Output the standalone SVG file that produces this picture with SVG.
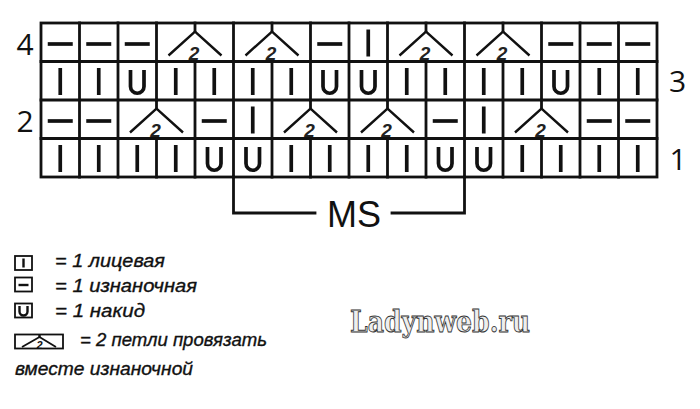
<svg xmlns="http://www.w3.org/2000/svg" xmlns:xlink="http://www.w3.org/1999/xlink" width="700" height="409" viewBox="0 0 700 409">
<style>
.g{fill:none;stroke:#111;stroke-width:2.8;stroke-linecap:square}
.s{fill:none;stroke:#111;stroke-width:3.7}
.dg{fill:none;stroke:#111;stroke-width:2.4}
.two{font-family:"Liberation Sans",Arial,sans-serif;font-size:19px;font-weight:bold;font-style:italic;fill:#222;text-anchor:middle}
.num{font-family:"Open Sans","DejaVu Sans",sans-serif;font-size:30px;fill:#111;text-anchor:middle}
.ms{font-family:"Liberation Sans",Arial,sans-serif;font-size:36px;fill:#111;text-anchor:middle}
.leg{font-family:"Liberation Sans",Arial,sans-serif;font-size:18.5px;font-style:italic;fill:#111;stroke:#111;stroke-width:0.35}
.lb{fill:#fff;stroke:#111;stroke-width:1.8}
.ls{fill:none;stroke:#111;stroke-width:2.4}
.wm{font-family:"DejaVu Serif",serif;font-size:30px;font-weight:bold;fill:#eeeeee;stroke:#333;stroke-width:0.9}
</style>
<defs>
<g id="k"><line class="s" x1="19.25" y1="6.5" x2="19.25" y2="33.5"/></g>
<g id="p"><line class="s" x1="6.75" y1="21" x2="31.75" y2="21"/></g>
<g id="u"><path class="s" d="M12.5,8.5 V25 A6.75,6.75 0 0 0 26,25 V8.5"/></g>
<g id="d"><line class="g" x1="0" y1="0" x2="0" y2="8.5"/><polyline class="dg" points="-26.5,32.5 0,8.5 26.5,32.5"/><text class="two" x="-1" y="36.5">2</text></g>
</defs>
<rect width="700" height="409" fill="#fff"/>
<g id="grid">
<rect class="g" x="41" y="23" width="616" height="154"/>
<path class="g" d="M41,61.5 H657 M41,100 H657 M41,138.5 H657"/>
<path class="g" d="M79.5,23 V177 M118,23 V177 M156.5,23 V100 M156.5,138.5 V177 M195,61.5 V177 M233.5,23 V177 M272,61.5 V177 M310.5,23 V100 M310.5,138.5 V177 M349,23 V177 M387.5,23 V100 M387.5,138.5 V177 M426,61.5 V177 M464.5,23 V177 M503,61.5 V177 M541.5,23 V100 M541.5,138.5 V177 M580,23 V177 M618.5,23 V177"/>
</g>
<g id="row4">
<use xlink:href="#p" x="41" y="23"/><use xlink:href="#p" x="79.5" y="23"/><use xlink:href="#p" x="118" y="23"/>
<use xlink:href="#d" x="195" y="23"/><use xlink:href="#d" x="272" y="23"/>
<use xlink:href="#p" x="310.5" y="23"/><use xlink:href="#k" x="349" y="23"/>
<use xlink:href="#d" x="426" y="23"/><use xlink:href="#d" x="503" y="23"/>
<use xlink:href="#p" x="541.5" y="23"/><use xlink:href="#p" x="580" y="23"/><use xlink:href="#p" x="618.5" y="23"/>
</g>
<g id="row3">
<use xlink:href="#k" x="41" y="61.5"/><use xlink:href="#k" x="79.5" y="61.5"/><use xlink:href="#u" x="118" y="61.5"/><use xlink:href="#k" x="156.5" y="61.5"/>
<use xlink:href="#k" x="195" y="61.5"/><use xlink:href="#k" x="233.5" y="61.5"/><use xlink:href="#k" x="272" y="61.5"/><use xlink:href="#u" x="310.5" y="61.5"/>
<use xlink:href="#u" x="349" y="61.5"/><use xlink:href="#k" x="387.5" y="61.5"/><use xlink:href="#k" x="426" y="61.5"/><use xlink:href="#k" x="464.5" y="61.5"/>
<use xlink:href="#k" x="503" y="61.5"/><use xlink:href="#u" x="541.5" y="61.5"/><use xlink:href="#k" x="580" y="61.5"/><use xlink:href="#k" x="618.5" y="61.5"/>
</g>
<g id="row2">
<use xlink:href="#p" x="41" y="100"/><use xlink:href="#p" x="79.5" y="100"/>
<use xlink:href="#d" x="156.5" y="100"/>
<use xlink:href="#p" x="195" y="100"/><use xlink:href="#k" x="233.5" y="100"/>
<use xlink:href="#d" x="310.5" y="100"/><use xlink:href="#d" x="387.5" y="100"/>
<use xlink:href="#p" x="426" y="100"/><use xlink:href="#k" x="464.5" y="100"/>
<use xlink:href="#d" x="541.5" y="100"/>
<use xlink:href="#p" x="580" y="100"/><use xlink:href="#p" x="618.5" y="100"/>
</g>
<g id="row1">
<use xlink:href="#k" x="41" y="138.5"/><use xlink:href="#k" x="79.5" y="138.5"/><use xlink:href="#k" x="118" y="138.5"/><use xlink:href="#k" x="156.5" y="138.5"/>
<use xlink:href="#u" x="195" y="138.5"/><use xlink:href="#u" x="233.5" y="138.5"/><use xlink:href="#k" x="272" y="138.5"/><use xlink:href="#k" x="310.5" y="138.5"/>
<use xlink:href="#k" x="349" y="138.5"/><use xlink:href="#k" x="387.5" y="138.5"/><use xlink:href="#u" x="426" y="138.5"/><use xlink:href="#u" x="464.5" y="138.5"/>
<use xlink:href="#k" x="503" y="138.5"/><use xlink:href="#k" x="541.5" y="138.5"/><use xlink:href="#k" x="580" y="138.5"/><use xlink:href="#k" x="618.5" y="138.5"/>
</g>
<g id="labels">
<text class="num" x="25" y="55">4</text>
<text class="num" x="25" y="132">2</text>
<text class="num" x="677.5" y="92">3</text>
<text class="num" x="678" y="170">1</text>
</g>
<g id="connectors">
<path class="g" d="M233.5,177 V213 H315 M392,213 H464.5 V177"/>
</g>
<g id="ms"><text class="ms" x="354" y="227">MS</text></g>
<g id="legend">
<rect class="lb" x="15" y="256" width="17" height="14"/><line class="ls" x1="23.5" y1="258.5" x2="23.5" y2="267.5"/>
<text class="leg" x="55" y="267" textLength="110" lengthAdjust="spacingAndGlyphs">= 1 лицевая</text>
<rect class="lb" x="15" y="277.5" width="17" height="14"/><line class="ls" x1="18.5" y1="285" x2="28.5" y2="285"/>
<text class="leg" x="55" y="292" textLength="142" lengthAdjust="spacingAndGlyphs">= 1 изнаночная</text>
<rect class="lb" x="15" y="303.5" width="17" height="14"/><path class="ls" d="M19.5,306 V311.5 A4,4 0 0 0 27.5,311.5 V306"/>
<text class="leg" x="55" y="317" textLength="90" lengthAdjust="spacingAndGlyphs">= 1 накид</text>
<rect class="lb" x="15" y="334.5" width="48" height="14"/><line class="ls" x1="39.5" y1="334.5" x2="39.5" y2="338"/><polyline class="ls" points="22,347 39.5,337 56,347" style="stroke-width:1.8"/><text x="39.5" y="348.5" style="font-family:'Liberation Sans',Arial,sans-serif;font-size:11px;font-weight:bold;font-style:italic;text-anchor:middle;fill:#111">2</text>
<text class="leg" x="80" y="346" textLength="187" lengthAdjust="spacingAndGlyphs">= 2 петли провязать</text>
<text class="leg" x="15" y="375" textLength="178" lengthAdjust="spacingAndGlyphs">вместе изнаночной</text>
</g>
<g id="watermark"><text class="wm" x="350" y="332" textLength="180" lengthAdjust="spacingAndGlyphs">Ladynweb.ru</text></g>
</svg>
